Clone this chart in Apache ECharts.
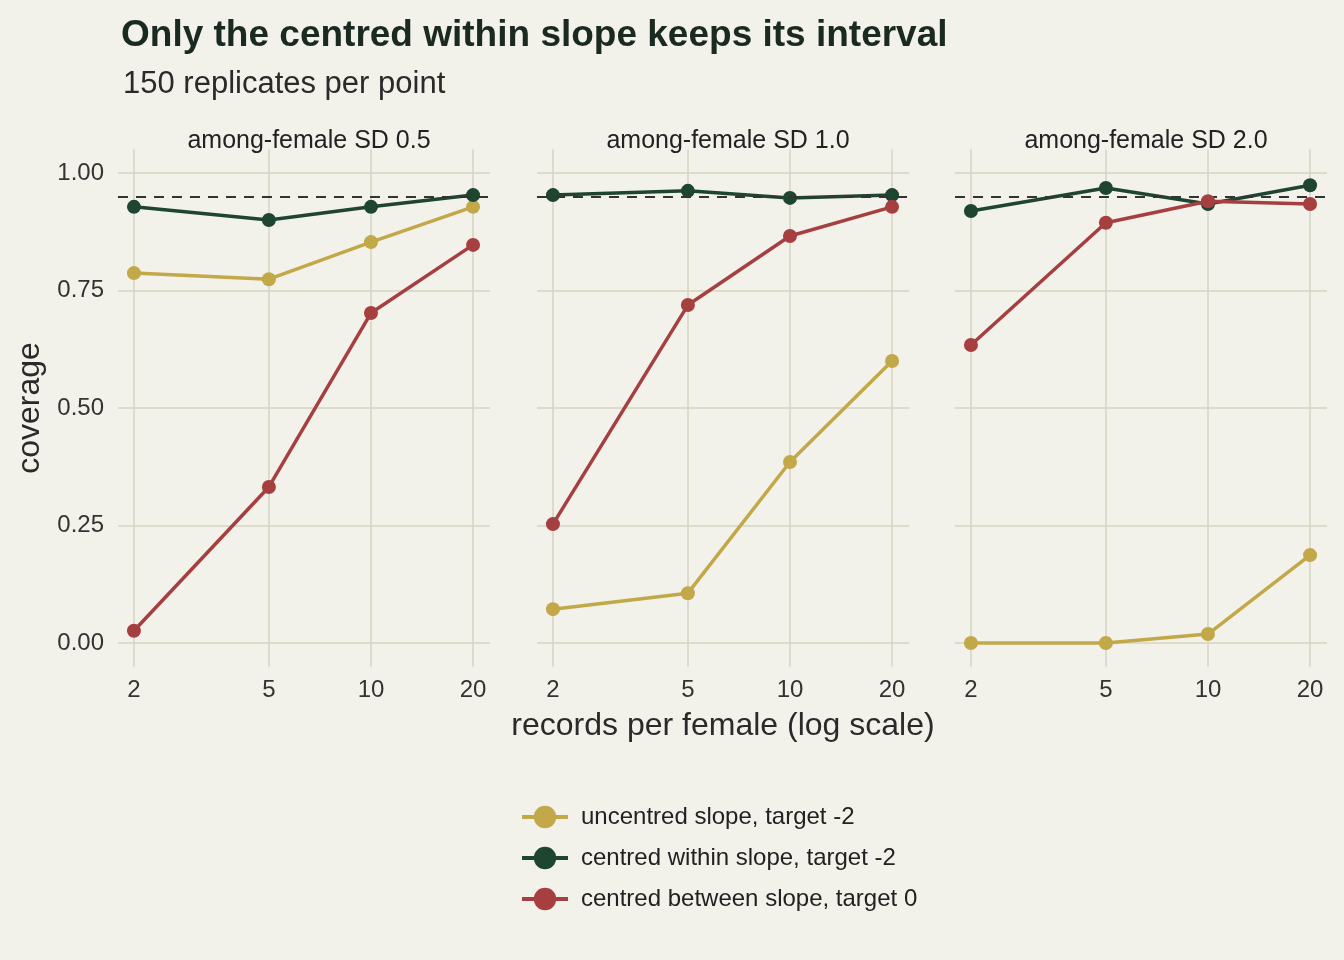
<!DOCTYPE html>
<html>
<head>
<meta charset="utf-8">
<script src="https://cdn.jsdelivr.net/npm/echarts@6/dist/echarts.min.js"></script>
<style>html,body{margin:0;background:#f2f1ea}#chart{width:1344px;height:960px}</style>
</head>
<body>
<div id="chart"></div>
<script>
var records = [2, 5, 10, 20];
var panels = ['among-female SD 0.5', 'among-female SD 1.0', 'among-female SD 2.0'];
var seriesNames = ['uncentred slope, target -2', 'centred within slope, target -2', 'centred between slope, target 0'];
var uncentred = [[0.787, 0.774, 0.853, 0.928], [0.072, 0.106, 0.385, 0.600], [0.000, 0.000, 0.019, 0.187]];
var within = [[0.928, 0.900, 0.928, 0.953], [0.953, 0.962, 0.947, 0.953], [0.919, 0.968, 0.934, 0.974]];
var between = [[0.026, 0.332, 0.702, 0.847], [0.253, 0.719, 0.866, 0.928], [0.634, 0.894, 0.940, 0.934]];
var target = 0.95;
var yTicks = [0, 0.25, 0.5, 0.75, 1];

var colors = ['#c2a848', '#1e4530', '#a63f3f'];
var gridLeft = [118, 537, 955];
var gridW = 372;
var logTicks = records.map(function (r) { return Math.log10(r); });
var font = 'Liberation Sans';

var grids = [], xAxes = [], yAxes = [], series = [], titles = [];
titles.push({ text: 'Only the centred within slope keeps its interval', left: 116, top: 12,
    textStyle: { fontSize: 37, fontWeight: 'bold', color: '#1a2a20', fontFamily: font } });
titles.push({ text: '150 replicates per point', left: 118, top: 64,
    textStyle: { fontSize: 31, fontWeight: 'normal', color: '#2a2a2a', fontFamily: font } });

panels.forEach(function (p, i) {
    grids.push({ left: gridLeft[i], width: gridW, top: 149.5, height: 517 });
    titles.push({ text: p, left: gridLeft[i] + gridW / 2, top: 124, textAlign: 'center',
        textStyle: { fontSize: 25, fontWeight: 'normal', color: '#222', fontFamily: font } });
    xAxes.push({
        gridIndex: i, type: 'value', min: 0.254, max: 1.351,
        name: i === 1 ? 'records per female (log scale)' : '', nameLocation: 'middle', nameGap: 44,
        nameTextStyle: { fontSize: 32, color: '#2a2a2a', fontFamily: font },
        axisLine: { show: false },
        axisTick: { show: false, customValues: logTicks },
        axisLabel: { customValues: logTicks, fontSize: 24, color: '#333', margin: 12, fontFamily: font,
            formatter: function (v) { return Math.round(Math.pow(10, v)); } },
        splitLine: { show: true, lineStyle: { color: '#d6d5c2', width: 1.5 } }
    });
    yAxes.push({
        gridIndex: i, type: 'value', min: -0.05, max: 1.05,
        name: i === 0 ? 'coverage' : '', nameLocation: 'middle', nameGap: 72,
        nameTextStyle: { fontSize: 32, color: '#2a2a2a', fontFamily: font },
        axisLine: { show: false },
        axisTick: { show: false, customValues: yTicks },
        axisLabel: { show: i === 0, customValues: yTicks, fontSize: 24, color: '#333', margin: 14, fontFamily: font,
            formatter: function (v) { return v.toFixed(2); } },
        splitLine: { show: true, lineStyle: { color: '#d6d5c2', width: 1.5 } }
    });
    [uncentred, within, between].forEach(function (arr, k) {
        series.push({
            name: seriesNames[k], type: 'line', xAxisIndex: i, yAxisIndex: i,
            data: records.map(function (r, j) { return [Math.log10(r), arr[i][j]]; }),
            symbol: 'circle', symbolSize: 14, z: 3 + k,
            lineStyle: { color: colors[k], width: 3.5 }, itemStyle: { color: colors[k] },
            markLine: k === 0 ? { silent: true, symbol: 'none', label: { show: false },
                lineStyle: { color: '#333', type: [10, 8], width: 2 }, data: [{ yAxis: target }] } : undefined
        });
    });
});

var chart = echarts.init(document.getElementById('chart'));
chart.setOption({
    backgroundColor: '#f2f1ea',
    animation: false,
    title: titles,
    grid: grids,
    xAxis: xAxes,
    yAxis: yAxes,
    legend: {
        data: seriesNames, orient: 'vertical', left: 515, top: 800, itemGap: 17,
        itemWidth: 46, itemHeight: 28,
        lineStyle: { width: 4 },
        textStyle: { fontSize: 24, color: '#222', fontFamily: font, padding: [0, 0, 0, 8] }
    },
    series: series
});
</script>
</body>
</html>
